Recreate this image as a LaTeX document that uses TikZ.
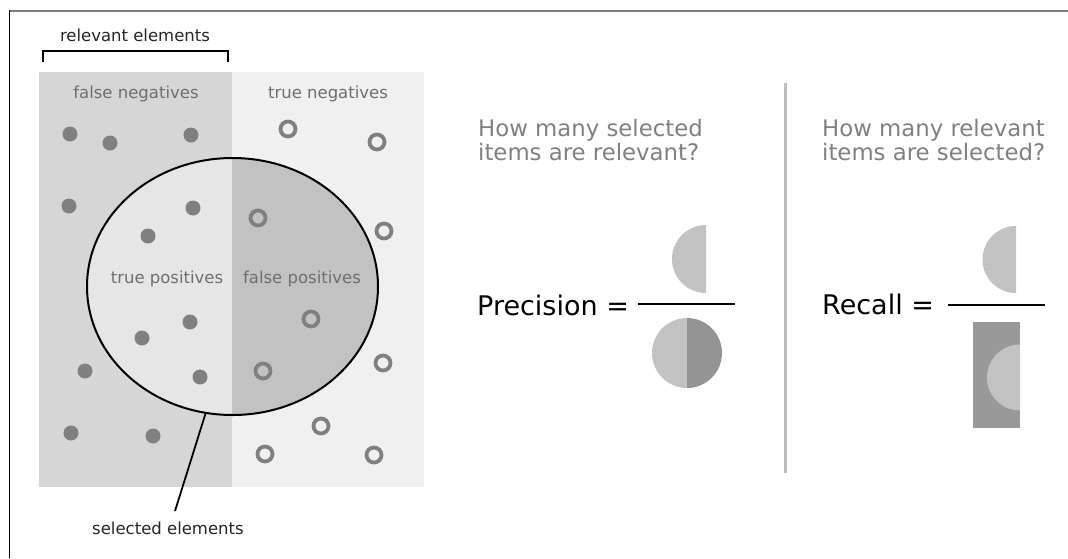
\documentclass[tikz,border=0pt]{standalone}
\usepackage{fontspec}
\setmainfont{DejaVu Sans}
\usetikzlibrary{shapes.geometric}
\definecolor{fnbg}{HTML}{D6D6D6}
\definecolor{tnbg}{HTML}{F0F0F0}
\definecolor{tpbg}{HTML}{E6E6E6}
\definecolor{fpbg}{HTML}{C2C2C2}
\definecolor{dotc}{HTML}{808080}
\definecolor{darkhalf}{HTML}{949494}
\definecolor{rectc}{HTML}{999999}
\definecolor{labc}{HTML}{6E6E6E}
\definecolor{qc}{HTML}{808080}
\definecolor{sepc}{HTML}{BDBDBD}
\definecolor{framec}{HTML}{7A7A7A}
\tikzset{
  fdot/.style={circle, fill=dotc, minimum size=15pt, inner sep=0pt},
  odot/.style={circle, draw=dotc, line width=3.8pt, minimum size=15pt, inner sep=0pt},
  regionlabel/.style={text=labc, font=\fontsize{16.5}{19}\selectfont, inner sep=0pt},
  toplabel/.style={text=black!85, font=\fontsize{16.5}{19}\selectfont, inner sep=0pt},
  question/.style={text=qc, font=\fontsize{22.8}{24}\selectfont, align=left, anchor=base west, inner sep=0pt},
  formula/.style={text=black, font=\fontsize{27}{30}\selectfont, anchor=base west, inner sep=0pt},
  fracbar/.style={line width=2pt, black},
}
\begin{document}
\begin{tikzpicture}[x=1pt,y=-1pt]
\useasboundingbox (0,0) rectangle (1068,558);
\fill[white] (0,0) rectangle (1068,558);
% frame
\draw[framec, line width=1.6pt] (9,10.7) -- (1068,10.7);
\draw[black, line width=1.6pt] (9.5,10) -- (9.5,558);
% regions
\fill[fnbg] (39,72) rectangle (232,487);
\fill[tnbg] (232,72) rectangle (424,487);
\begin{scope}
  \clip (80,150) rectangle (232,420);
  \fill[tpbg] (232.5,286.5) ellipse[x radius=145.5, y radius=128.5];
\end{scope}
\begin{scope}
  \clip (232,150) rectangle (390,420);
  \fill[fpbg] (232.5,286.5) ellipse[x radius=145.5, y radius=128.5];
\end{scope}
\node[ellipse, draw=black, line width=2pt, minimum width=291pt, minimum height=257pt, inner sep=0pt] (sel) at (232.5,286.5) {};
% bracket
\node[toplabel] (rel) at (135,35) {relevant elements};
\coordinate (bl) at (43,62);
\coordinate (br) at (228,62);
\draw[line width=1.8pt, black] (bl) -- ++(0,-11) -| (br);
% labels
\node[regionlabel] (fn) at (136,94) {false negatives};
\node[regionlabel] (tn) at (328,94) {true negatives};
\node[regionlabel] (tp) at (167,279) {true positives};
\node[regionlabel] (fp) at (302,279) {false positives};
% filled dots
\node[fdot] (f1) at (70,134) {};
\node[fdot] (f2) at (110,143) {};
\node[fdot] (f3) at (191,135) {};
\node[fdot] (f4) at (69,206) {};
\node[fdot] (f5) at (193,208) {};
\node[fdot] (f6) at (148,236) {};
\node[fdot] (f7) at (190,322) {};
\node[fdot] (f8) at (142,338) {};
\node[fdot] (f9) at (85,371) {};
\node[fdot] (f10) at (200,377) {};
\node[fdot] (f11) at (71,433) {};
\node[fdot] (f12) at (153,436) {};
% open dots
\node[odot] (o1) at (288,129) {};
\node[odot] (o2) at (377,142) {};
\node[odot] (o3) at (258,218) {};
\node[odot] (o4) at (384,231) {};
\node[odot] (o5) at (311,319) {};
\node[odot] (o6) at (263,371) {};
\node[odot] (o7) at (383,363) {};
\node[odot] (o8) at (321,426) {};
\node[odot] (o9) at (265,454) {};
\node[odot] (o10) at (374,455) {};
% selected elements pointer
\node[toplabel] (sl) at (168,528) {selected elements};
\coordinate (slend) at (175,511);
\draw[line width=1.8pt, black] (sel.258) -- (slend);
% separator
\coordinate (sept) at (785,83);
\coordinate (sepb) at (785,473);
\draw[sepc, line width=3pt] (sept) -- (sepb);
% precision
\node[question] (q1) at (478,160.5) {How many selected\\items are relevant?};
\node[formula] (prec) at (477,315) {Precision =};
\coordinate (pb1) at (638,304);
\coordinate (pb2) at (735,304);
\draw[fracbar] (pb1) -- (pb2);
\begin{scope}
  \clip (660,220) rectangle (706,300);
  \fill[fpbg] (706,259) circle[radius=34];
\end{scope}
\begin{scope}
  \clip (640,310) rectangle (687,400);
  \fill[fpbg] (687,353) circle[radius=35];
\end{scope}
\begin{scope}
  \clip (687,310) rectangle (730,400);
  \fill[darkhalf] (687,353) circle[radius=35];
\end{scope}
% recall
\node[question] (q2) at (822,160.5) {How many relevant\\items are selected?};
\node[formula] (rec) at (822,314) {Recall =};
\coordinate (rb1) at (948,305);
\coordinate (rb2) at (1045,305);
\draw[fracbar] (rb1) -- (rb2);
\begin{scope}
  \clip (970,220) rectangle (1016,300);
  \fill[fpbg] (1016,259.5) circle[radius=33.5];
\end{scope}
\fill[rectc] (973,322) rectangle (1020,428);
\begin{scope}
  \clip (980,340) rectangle (1020,415);
  \fill[fpbg] (1020,377.5) circle[radius=33];
\end{scope}
\end{tikzpicture}
\end{document}
